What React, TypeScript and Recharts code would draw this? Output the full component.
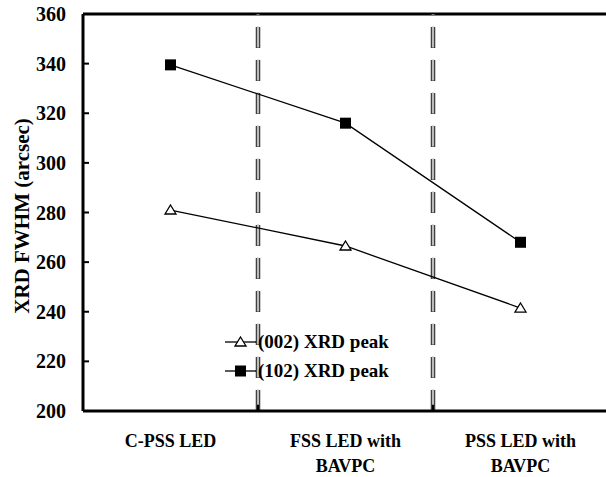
import React from 'react';
import { LineChart, Line, XAxis, YAxis, ReferenceLine, Legend } from 'recharts';

const categories = [['C-PSS LED'], ['FSS LED with', 'BAVPC'], ['PSS LED with', 'BAVPC']];
const catPositions = [0.5, 1.5, 2.5];
const peak002 = [281, 266.5, 241.5];
const peak102 = [339.5, 316, 268];
const yTicks = [200, 220, 240, 260, 280, 300, 320, 340, 360];
const dividers = [1, 2];

const data = catPositions.map((x, i) => ({ x, p002: peak002[i], p102: peak102[i] }));

const FONT = '"Liberation Serif", "Times New Roman", serif';

const Triangle = (props: any) => {
  const { cx, cy } = props;
  if (cx == null || cy == null) return null;
  return (
    <path
      d={`M${cx},${cy - 5} L${cx + 5.5},${cy + 4} L${cx - 5.5},${cy + 4} Z`}
      fill="#fff"
      stroke="#000"
      strokeWidth={1.3}
    />
  );
};

const Square = (props: any) => {
  const { cx, cy } = props;
  if (cx == null || cy == null) return null;
  return <rect x={cx - 5.5} y={cy - 5.5} width={11} height={11} fill="#000" />;
};

const YTick = ({ x, y, payload }: any) => (
  <g>
    <line x1={x + 13} x2={x + 19} y1={y} y2={y} stroke="#000" strokeWidth={2} />
    <text x={x - 4} y={y} dy={7} textAnchor="end" fontFamily={FONT} fontWeight="bold" fontSize={20} fill="#000">
      {payload.value}
    </text>
  </g>
);

const XTick = ({ x, y, payload }: any) => {
  const idx = catPositions.indexOf(payload.value);
  const lines = categories[idx] || [];
  return (
    <text x={x} y={y} textAnchor="middle" fontFamily={FONT} fontWeight="bold" fontSize={18} fill="#000">
      {lines.map((l, i) => (
        <tspan key={i} x={x} dy={i === 0 ? 28 : 25}>
          {l}
        </tspan>
      ))}
    </text>
  );
};

const LegendContent = () => {
  const items = [
    { label: '(002) XRD peak', shape: 'tri' },
    { label: '(102) XRD peak', shape: 'sq' },
  ];
  return (
    <div style={{ fontFamily: FONT, fontWeight: 'bold', fontSize: 19, lineHeight: 1 }}>
      {items.map((it) => (
        <div key={it.label} style={{ display: 'flex', alignItems: 'center', height: 29 }}>
          <svg width={31} height={14}>
            <line x1={0} x2={31} y1={7} y2={7} stroke="#000" strokeWidth={1.3} />
            {it.shape === 'tri' ? (
              <path d="M15.5,2 L21,11 L10,11 Z" fill="#fff" stroke="#000" strokeWidth={1.3} />
            ) : (
              <rect x={10} y={1.5} width={11} height={11} fill="#000" />
            )}
          </svg>
          <span style={{ marginLeft: 2 }}>{it.label}</span>
        </div>
      ))}
    </div>
  );
};

export default function App() {
  return (
    <div style={{ position: 'fixed', top: 0, left: 0, width: 606, height: 477, overflow: 'hidden', background: '#fff' }}>
      <LineChart width={640} height={477} data={data} margin={{ top: 14, right: 32, bottom: 0, left: 0 }}>
        <XAxis
          dataKey="x"
          type="number"
          domain={[0, 3]}
          ticks={catPositions}
          tick={<XTick />}
          tickLine={false}
          axisLine={{ stroke: '#000', strokeWidth: 3 }}
          height={66}
          interval={0}
        />
        <YAxis
          domain={[200, 360]}
          ticks={yTicks}
          tick={<YTick />}
          tickLine={false}
          tickSize={0}
          tickMargin={13}
          width={83}
          axisLine={{ stroke: '#000', strokeWidth: 3 }}
          label={() => (
            <text
              x={22}
              y={216}
              transform={`rotate(-90 22 216)`}
              textAnchor="middle"
              dominantBaseline="central"
              fontFamily={FONT}
              fontWeight="bold"
              fontSize={21}
              fill="#000"
            >
              XRD FWHM (arcsec)
            </text>
          )}
        />
        <ReferenceLine y={360} stroke="#000" strokeWidth={3} />
        {dividers.map((d) => (
          <ReferenceLine key={`o${d}`} x={d} stroke="#333" strokeWidth={4.5} strokeDasharray="21 12" />
        ))}
        {dividers.map((d) => (
          <ReferenceLine key={`i${d}`} x={d} stroke="#bbb" strokeWidth={2.2} strokeDasharray="21 12" strokeDashoffset={-0.6} />
        ))}
        {dividers.map((d) => (
          <ReferenceLine key={`t${d}`} segment={[{ x: d, y: 200 }, { x: d, y: 202.5 }]} stroke="#000" strokeWidth={2} />
        ))}
        <Line
          dataKey="p002"
          stroke="#000"
          strokeWidth={1.3}
          dot={<Triangle />}
          isAnimationActive={false}
        />
        <Line
          dataKey="p102"
          stroke="#000"
          strokeWidth={1.3}
          dot={<Square />}
          isAnimationActive={false}
        />
        <Legend
          content={<LegendContent />}
          layout="vertical"
          verticalAlign="middle"
          align="center"
          wrapperStyle={{ left: 225, top: 327, width: 220 }}
        />
      </LineChart>
    </div>
  );
}
